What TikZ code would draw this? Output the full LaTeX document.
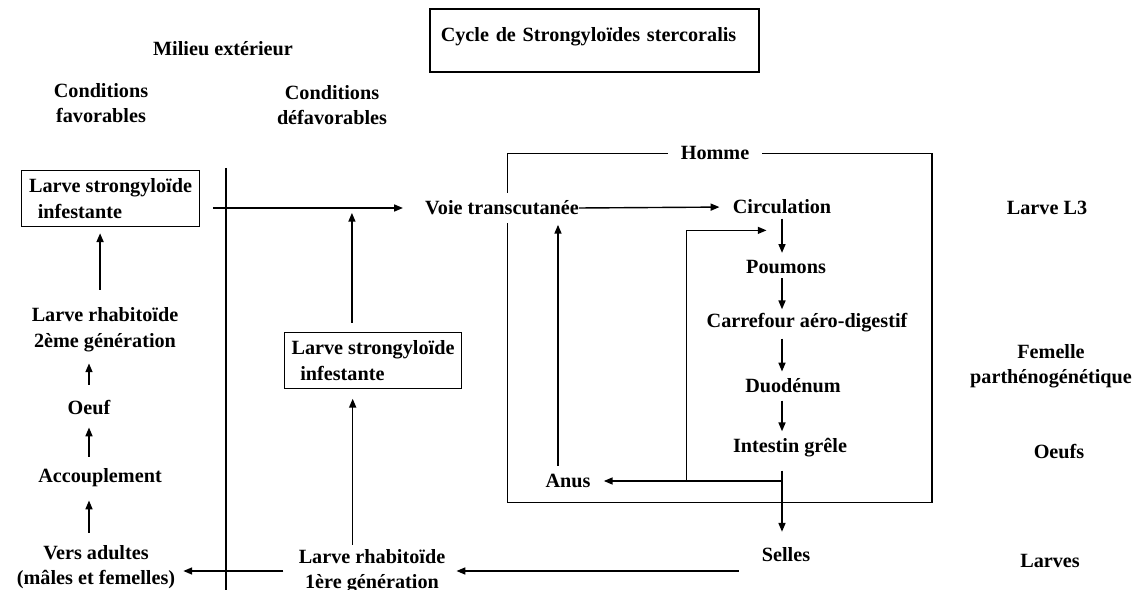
\documentclass[tikz,border=0pt]{standalone}
\usepackage{fontspec}
\setmainfont{Liberation Serif}
\usetikzlibrary{positioning,fit,calc}
\usetikzlibrary{arrows.meta}

\begin{document}
\begin{tikzpicture}[x=0.02cm,y=-0.02cm,
  every node/.style={font=\fontsize{11.5}{14.5}\selectfont\bfseries,align=center,inner sep=0pt},
  boite/.style={draw,line width=0.8pt,align=left,minimum width=101pt,minimum height=32pt},
  fleche/.style={-{Triangle[length=5pt,width=4pt]},line width=0.8pt}]
  \useasboundingbox (0,0) rectangle (1138,590);

  % milieu exterieur
  \node (milieu) at (223,49) {Milieu extérieur};
  \node (favo) at (101,103) {Conditions\\favorables};
  \node (defavo) at (332,105) {Conditions\\défavorables};
  \node (titre) at (594.5,40.5) [draw,line width=0.8pt,text width=175pt,align=left,inner xsep=6.2pt,text height=18.7pt,text depth=17pt] {Cycle de Strongyloïdes stercoralis};
  \draw[line width=0.8pt] (226,168) -- (226,590);

  \node (infest1) at (110.5,198.5) [boite] {Larve strongyloïde\\\hspace*{5pt}infestante};
  \node (rhab2) at (105,329.5) {Larve rhabitoïde\\2ème génération};
  \node (oeuf) at (89,408) {Oeuf};
  \node (accoupl) at (100,478) {Accouplement};
  \node (adultes) at (96,567) {Vers adultes\\(mâles et femelles)};
  \node (infest2) at (373,360.5) [boite] {Larve strongyloïde\\\hspace*{5pt}infestante};
  \node (rhab1) at (372,571) {Larve rhabitoïde\\1ère génération};

  % homme
  \node (cadre) at (719.75,328) [draw,line width=0.8pt,minimum width=241.8pt,minimum height=198.4pt] {};
  \node (homme) at (715,153) [fill=white,inner xsep=7.4pt,inner ysep=2pt] {Homme};
  \node (voie) at (502,208) [fill=white,inner ysep=4.3pt] {Voie transcutanée};
  \node (circ) at (782,207) {Circulation};
  \node (poumons) at (786,267) {Poumons};
  \node (carref) at (807,323) {Carrefour aéro-digestif};
  \node (duod) at (793,386) {Duodénum};
  \node (intestin) at (790,448) {Intestin grêle};
  \node (anus) at (568,481) {Anus};
  \node (selles) at (786,555) {Selles};

  \node (larveL3) at (1047,208) {Larve L3};
  \node (femelle) at (1051,366) {Femelle\\parthénogénétique};
  \node (oeufs) at (1059,452) {Oeufs};
  \node (larves) at (1050,561) {Larves};

  \coordinate (bifurc) at (circ.south |- anus.east);
  \coordinate (boucle) at ($(anus.east)!0.5!(bifurc)$);

  % fleches
  \draw[fleche,shorten <=7.4pt,shorten >=12.5pt] (infest1.east |- voie.west) -- (voie.west);
  \draw[fleche,shorten >=7.4pt] (voie.east) -- (circ.west);
  \draw[fleche,shorten <=5pt,shorten >=2.8pt] ([xshift=-12pt]infest2.north) -- ([xshift=-12pt]infest2.north |- voie.west);
  \draw[fleche,shorten <=2.3pt,shorten >=5.4pt] ([xshift=-11pt]rhab1.north) -- ([xshift=-11pt]rhab1.north |- infest2.south);
  \draw[fleche,shorten <=10pt,shorten >=3.4pt] ([xshift=-2.8pt]rhab2.north) -- ([xshift=-2.8pt]rhab2.north |- infest1.south);
  \draw[fleche,shorten <=9pt,shorten >=6.6pt] (oeuf.north) -- (oeuf.north |- rhab2.south);
  \draw[fleche,shorten <=6.8pt,shorten >=6.8pt] (accoupl.north -| oeuf.south) -- (oeuf.south);
  \draw[fleche,shorten <=6.8pt,shorten >=7.4pt] (adultes.north -| oeuf.south) -- (accoupl.south -| oeuf.south);
  \draw[fleche,shorten <=8.5pt,shorten >=4.5pt] (rhab1.west) -- (rhab1.west -| adultes.east);
  \draw[fleche,shorten <=13pt,shorten >=6.2pt] (selles.west |- rhab1.east) -- (rhab1.east);

  \draw[fleche,shorten <=2.3pt,shorten >=4pt] (circ.south) -- (circ.south |- poumons.north);
  \draw[fleche,shorten <=2.4pt,shorten >=2.3pt] (poumons.south -| circ.south) -- (carref.north -| circ.south);
  \draw[fleche,shorten <=3.4pt,shorten >=4pt] (carref.south -| circ.south) -- (duod.north -| circ.south);
  \draw[fleche,shorten <=4pt,shorten >=4pt] (duod.south -| circ.south) -- (intestin.north -| circ.south);
  \draw[fleche,shorten <=7.4pt,shorten >=9pt] (intestin.south -| circ.south) -- (selles.north -| circ.south);
  \draw[fleche,shorten >=7.4pt] (bifurc) -- (anus.east);
  \draw[fleche,shorten >=9.6pt] (boucle) |- ($(circ.south)!0.35!(poumons.north)$);
  \draw[fleche,shorten <=4.5pt,shorten >=1pt] ([xshift=-5.7pt]anus.north) -- ([xshift=-5.7pt]anus.north |- voie.south);
\end{tikzpicture}
\end{document}
